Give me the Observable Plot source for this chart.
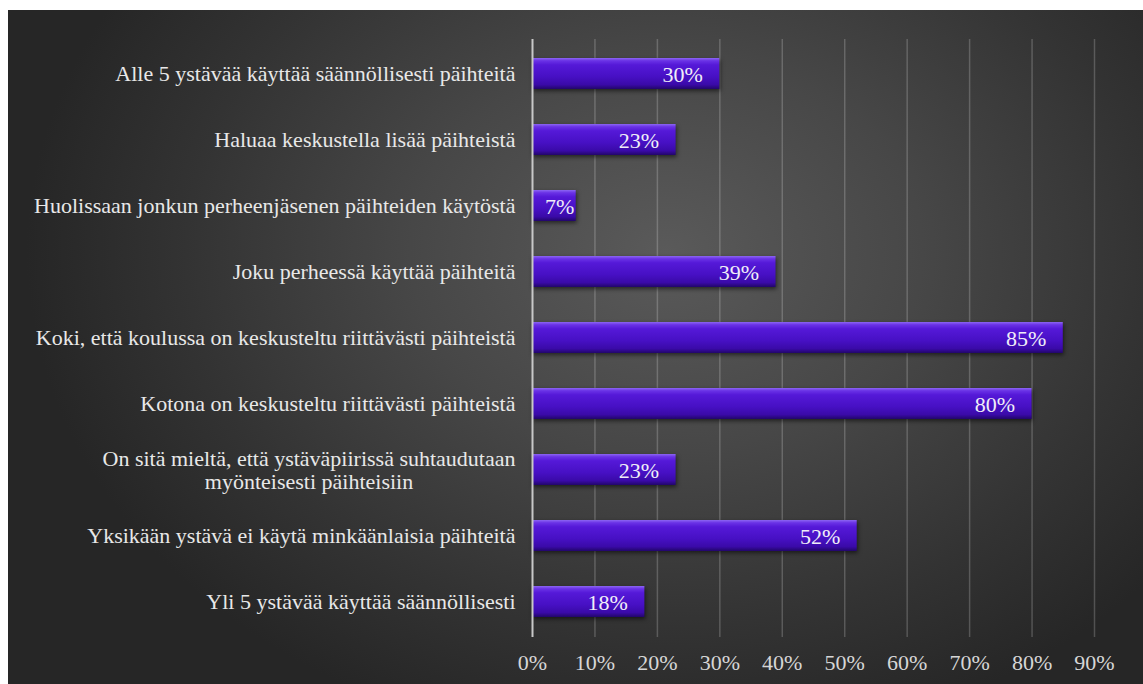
<!DOCTYPE html>
<html><head><meta charset="utf-8">
<script src="https://cdn.jsdelivr.net/npm/d3@7"></script>
<script src="https://cdn.jsdelivr.net/npm/@observablehq/plot@0.6"></script>
<style>
body{margin:0;background:#fff;}
#panel{position:absolute;left:8px;top:10px;width:1135px;height:674px;
 background:radial-gradient(ellipse 640px 500px at 58% 36%, #5a5a5a 0%, #474747 40%, #333333 75%, #262626 100%);}
#panel svg, #panel svg text{font-family:"Liberation Serif", "Times New Roman", serif !important;}
</style></head><body><div id="panel"></div>
<script>
const categories = [
  "Alle 5 ystävää käyttää säännöllisesti päihteitä",
  "Haluaa keskustella lisää päihteistä",
  "Huolissaan jonkun perheenjäsenen päihteiden käytöstä",
  "Joku perheessä käyttää päihteitä",
  "Koki, että koulussa on keskusteltu riittävästi päihteistä",
  "Kotona on keskusteltu riittävästi päihteistä",
  "On sitä mieltä, että ystäväpiirissä suhtaudutaan\nmyönteisesti päihteisiin",
  "Yksikään ystävä ei käytä minkäänlaisia päihteitä",
  "Yli 5 ystävää käyttää säännöllisesti"
];
const values = [30, 23, 7, 39, 85, 80, 23, 52, 18];
const xTicks = [0, 10, 20, 30, 40, 50, 60, 70, 80, 90];

const data = categories.map((c, i) => ({category: c, value: values[i]}));
const font = "Liberation Serif";
const fs = 22;

const defs = () => {
  const d = d3.create("svg:defs");
  const g = d.append("linearGradient").attr("id", "barGrad").attr("x1", 0).attr("y1", 0).attr("x2", 0).attr("y2", 1);
  [["0%", "#8c66f2"], ["9%", "#6a32e6"], ["22%", "#5519d8"], ["60%", "#4710c4"], ["86%", "#3a0aa8"], ["100%", "#22066a"]]
    .forEach(([o, c]) => g.append("stop").attr("offset", o).attr("stop-color", c));
  return d.node();
};

const chart = Plot.plot({
  width: 1135, height: 674,
  marginLeft: 524, marginRight: 49, marginTop: 29, marginBottom: 47,
  style: {background: "transparent", fontFamily: font, fontSize: fs + "px", color: "#e6e6e6", overflow: "visible"},
  x: {domain: [0, 90], ticks: xTicks, tickFormat: d => d + "%", label: null},
  y: {domain: categories, paddingInner: 0.53, paddingOuter: 0.265, label: null},
  marks: [
    defs,
    Plot.gridX(xTicks.slice(1), {stroke: "#ffffff", strokeOpacity: 0.2, strokeWidth: 1.5}),
    Plot.barX(data, {x: "value", y: "category", fill: "url(#barGrad)"}),
    Plot.ruleX([0], {stroke: "#c8c8c8", strokeWidth: 2}),
    Plot.axisX({ticks: xTicks, tickSize: 0, tickPadding: 17, fill: "#d6d6d6", fontSize: fs, fontFamily: font, tickFormat: d => d + "%", label: null}),
    Plot.axisY({tickSize: 0, tickPadding: 17, fontSize: fs, fontFamily: font, fill: "#e8e8e8", lineHeight: 1.05, label: null}),
    Plot.text(data.filter(d => d.value >= 10), {x: "value", y: "category", text: d => d.value + "%", textAnchor: "end", dx: -17, dy: 1, fill: "#f0eef8", fontSize: fs, fontFamily: font}),
    Plot.text(data.filter(d => d.value < 10), {x: "value", y: "category", text: d => d.value + "%", textAnchor: "end", dx: -2, dy: 1, fill: "#f0eef8", fontSize: fs, fontFamily: font})
  ]
});
document.getElementById("panel").appendChild(chart);

d3.select(chart).selectAll('g[aria-label="bar"]').style("filter", "drop-shadow(1px 2px 2px rgba(0,0,0,0.55))");
// center multi-line labels like the original
d3.select(chart).selectAll('g[aria-label="y-axis tick label"] text').each(function() {
  const tspans = this.querySelectorAll("tspan");
  if (tspans.length > 1) {
    let w = 0;
    tspans.forEach(t => { w = Math.max(w, t.getComputedTextLength()); });
    this.setAttribute("text-anchor", "middle");
    const tr = this.getAttribute("transform") || "";
    this.setAttribute("transform", tr + ` translate(${-w / 2},0)`);
  }
});
</script>
</body></html>
